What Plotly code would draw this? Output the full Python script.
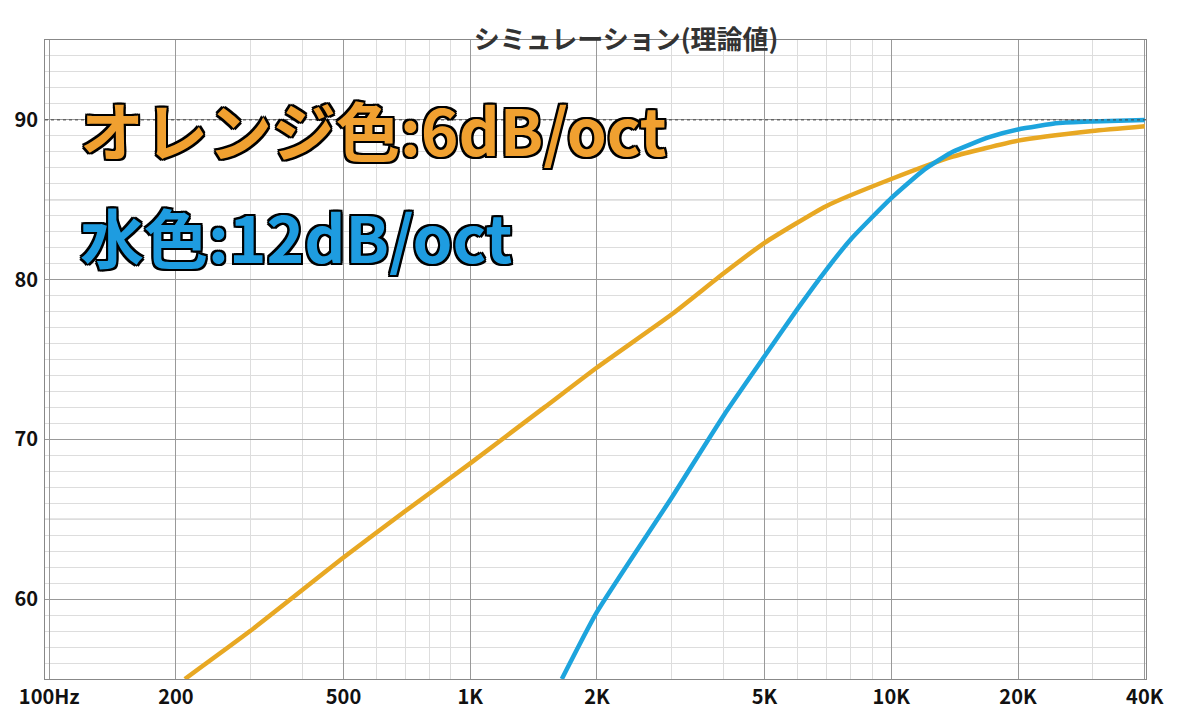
import plotly.graph_objects as go

tick_vals = [100, 200, 500, 1000, 2000, 5000, 10000, 20000, 40000]
tick_text = ["100Hz", "200", "500", "1K", "2K", "5K", "10K", "20K", "40K"]

orange_f = [210, 300, 500, 700, 1000, 1500, 2000, 3000, 4000, 5000, 7000, 10000, 14000, 20000, 30000, 40000]
orange_db = [55.0, 58.0, 62.6, 65.5, 68.5, 72.0, 74.5, 77.8, 80.4, 82.3, 84.6, 86.3, 87.7, 88.7, 89.3, 89.6]

blue_f = [1650, 2000, 3000, 4000, 5000, 6000, 7000, 8000, 10000, 12000, 14000, 17000, 20000, 25000, 30000, 40000]
blue_db = [55.0, 59.2, 66.3, 71.5, 75.2, 78.2, 80.6, 82.5, 85.1, 86.9, 88.0, 88.9, 89.4, 89.8, 89.9, 90.0]

outline = "2px 0 0 #000, -2px 0 0 #000, 0 2px 0 #000, 0 -2px 0 #000, 2px 2px 0 #000, -2px -2px 0 #000, 2px -2px 0 #000, -2px 2px 0 #000"

fig = go.Figure()
fig.add_trace(go.Scatter(x=orange_f, y=orange_db, mode="lines", line=dict(color="#E8A823", width=4.5, shape="spline", smoothing=0.5)))
fig.add_trace(go.Scatter(x=blue_f, y=blue_db, mode="lines", line=dict(color="#1DA4DD", width=4.5, shape="spline", smoothing=0.5)))

fig.add_hline(y=90, line=dict(color="#444", width=1, dash="dot"))
for v in [65, 75, 85]:
    fig.add_hline(y=v, line=dict(color="#999", width=1), layer="below")

fig.add_annotation(x=65, y=120, xref="paper", yref="paper", showarrow=False, text="")
fig.layout.annotations = []
fig.add_annotation(x=0.03, y=0.863, xref="paper", yref="paper", xanchor="left", yanchor="middle", showarrow=False,
                   text="オレンジ色:6dB/oct", font=dict(size=64, color="#F0A030", family="Noto Sans CJK JP", weight=600, shadow=outline))
fig.add_annotation(x=0.03, y=0.695, xref="paper", yref="paper", xanchor="left", yanchor="middle", showarrow=False,
                   text="水色:12dB/oct", font=dict(size=64, color="#1E9CE0", family="Noto Sans CJK JP", weight=600, shadow=outline))

fig.update_layout(
    width=1200, height=709, showlegend=False,
    paper_bgcolor="white", plot_bgcolor="white",
    margin=dict(l=37, r=62, t=32, b=38, autoexpand=False),
    title=dict(text="シミュレーション(理論値)", x=0.515, y=0.955, xanchor="center", yanchor="middle",
               font=dict(size=26, color="#333", family="Noto Sans CJK JP", weight=600)),
    font=dict(family="Noto Sans CJK JP", color="#111"),
)
fig.update_xaxes(type="log", range=[1.99, 4.605], tickvals=tick_vals, ticktext=tick_text, automargin=False,
                 tickfont=dict(size=20, color="#111", weight=600), showgrid=True, gridcolor="#999", gridwidth=1,
                 minor=dict(dtick="D1", showgrid=True, gridcolor="#ddd", gridwidth=1),
                 showline=True, linecolor="#888", mirror=True, ticks="")
fig.update_yaxes(range=[55, 95], tickvals=[60, 70, 80, 90], ticktext=["60", "70", "80", "90"], automargin=False,
                 tickfont=dict(size=20, color="#111", weight=600), showgrid=True, gridcolor="#999", gridwidth=1,
                 minor=dict(dtick=1, showgrid=True, gridcolor="#ddd", gridwidth=1),
                 showline=True, linecolor="#888", mirror=True, ticks="", ticklabelstandoff=2,
                 zeroline=False)

fig.write_html("out.html")
